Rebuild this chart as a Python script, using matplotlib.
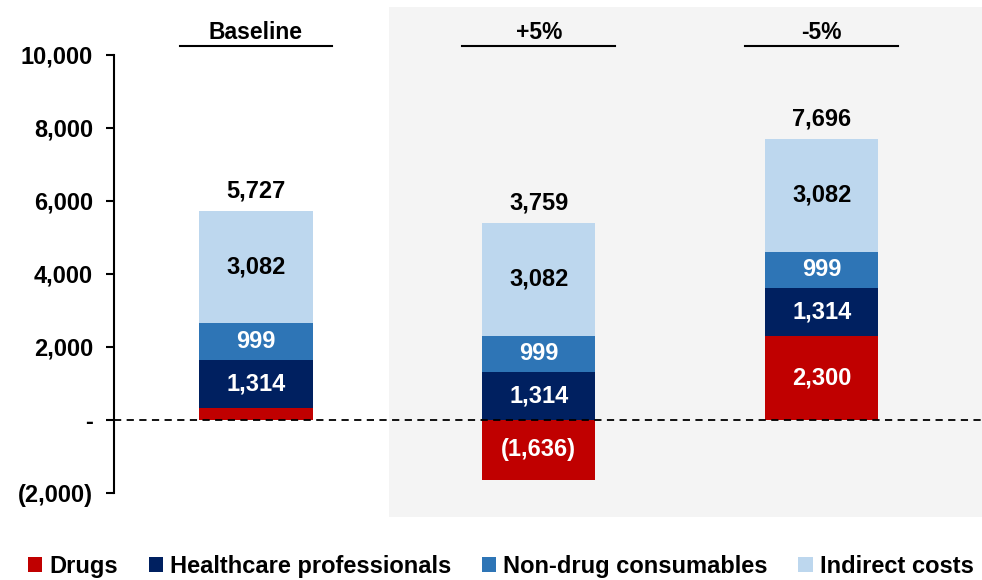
import matplotlib
matplotlib.use("Agg")
import matplotlib.pyplot as plt
import numpy as np

plt.rcParams['font.family'] = ['Liberation Sans', 'DejaVu Sans']
plt.rcParams['font.weight'] = 'bold'

scenarios = ["Baseline", "+5%", "-5%"]
drugs = [332, -1636, 2300]
hcp = [1314, 1314, 1314]
nondrug = [999, 999, 999]
indirect = [3082, 3082, 3082]
totals = [5727, 3759, 7696]
series_names = ["Drugs", "Healthcare professionals", "Non-drug consumables", "Indirect costs"]
colors = ["#C00000", "#002060", "#2E75B6", "#BDD7EE"]
yticks = [-2000, 0, 2000, 4000, 6000, 8000, 10000]
yticklabels = ["(2,000)", "-", "2,000", "4,000", "6,000", "8,000", "10,000"]

def fmt(v):
    return f"({abs(v):,})" if v < 0 else f"{v:,}"

fig = plt.figure(figsize=(9.82, 5.8), dpi=100)
ax = fig.add_axes([114/982, 63/580, 1 - 114/982, 510/580])
x = np.arange(len(scenarios))
w = 0.4

ax.set_xlim(-0.502, 2.567)
ax.set_ylim(-2658, 11315)

ax.axvspan(0.47, 2.567, color="#F4F4F4", zorder=0, lw=0)

bottoms_pos = np.zeros(3)
stack = [drugs, hcp, nondrug, indirect]
handles = []
for i, (vals, c, name) in enumerate(zip(stack, colors, series_names)):
    vals = np.array(vals, dtype=float)
    if i == 0:
        bottoms = np.zeros(3)
    else:
        bottoms = bottoms_pos.copy()
    b = ax.bar(x, vals, w, bottom=bottoms, color=c, label=name, zorder=2)
    handles.append(b)
    for j in range(3):
        v = vals[j]
        if abs(v) < 500:
            continue
        yc = bottoms[j] + v / 2
        tc = "black" if i == 3 else "white"
        ax.text(x[j], yc, fmt(int(v)), ha="center", va="center", color=tc,
                fontsize=17, fontweight="bold", zorder=3)
    if i == 0:
        bottoms_pos = np.maximum(vals, 0)
    else:
        bottoms_pos = bottoms + vals

tops = bottoms_pos
for j in range(3):
    ax.text(x[j], tops[j] + 560, fmt(totals[j]), ha="center", va="center",
            fontsize=17, fontweight="bold", color="black", zorder=3)

ax.axhline(0, color="black", ls=(0, (4, 3)), lw=1.3, zorder=4)

# headers
for j, s in enumerate(scenarios):
    ax.text(x[j], 10620, s, ha="center", va="center", fontsize=16.5,
            fontweight="bold", clip_on=False)
    ax.plot([x[j] - 0.27, x[j] + 0.27], [10250, 10250], color="black", lw=1.5,
            clip_on=False)

for sp in ["top", "right", "bottom"]:
    ax.spines[sp].set_visible(False)
ax.spines["left"].set_bounds(-2000, 10000)
ax.spines["left"].set_linewidth(1.5)
ax.set_xticks([])
ax.set_yticks(yticks)
ax.set_yticklabels(yticklabels, fontsize=17, fontweight="bold")
ax.tick_params(axis="y", length=6, width=1.5, pad=9)

leg = fig.legend(handles=handles, labels=series_names, loc="lower center",
                 bbox_to_anchor=(0.51, -0.033), ncol=4, frameon=False,
                 fontsize=17, handlelength=0.6, handleheight=0.6,
                 handletextpad=0.3, columnspacing=1.3)

fig.savefig("out.png", dpi=100)
